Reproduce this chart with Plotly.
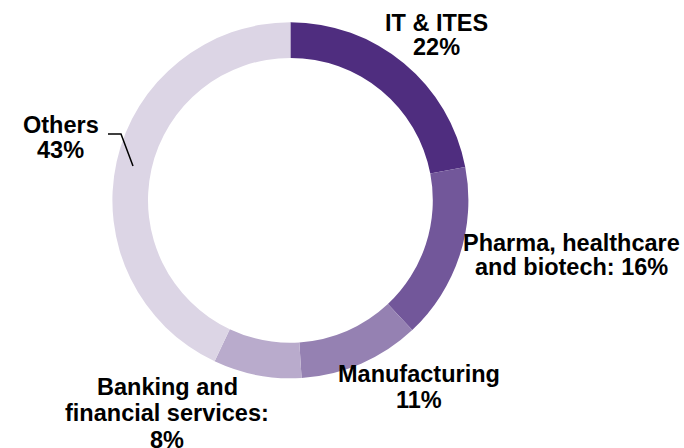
import plotly.graph_objects as go

W, H = 684, 448

# Data
sectors = ["IT & ITES", "Pharma, healthcare and biotech", "Manufacturing",
           "Banking and financial services", "Others"]
shares = [22, 16, 11, 8, 43]
colors = ["#4F2D7F", "#72579A", "#9581B2", "#B9ABCC", "#DCD5E5"]

# Label lines (text as in the chart) and their pixel centres
label_lines = [
    ["IT & ITES", f"{shares[0]}%"],
    ["Pharma, healthcare", f"and biotech: {shares[1]}%"],
    ["Manufacturing", f"{shares[2]}%"],
    ["Banking and", "financial services:", f"{shares[3]}%"],
    ["Others", f"{shares[4]}%"],
]
label_pos = [
    [(436, 23), (436, 47)],
    [(571, 243), (571, 267)],
    [(419, 374), (419, 400)],
    [(167, 387), (167, 413), (167, 440)],
    [(61, 125), (60, 150)],
]

cx, cy, r = 290.4, 200.3, 178.0

fig = go.Figure(go.Pie(
    labels=sectors, values=shares, hole=0.8, sort=False, direction="clockwise",
    rotation=0, marker=dict(colors=colors, line=dict(width=0)),
    textinfo="none", hoverinfo="label+percent", showlegend=False,
    domain=dict(x=[(cx - r) / W, (cx + r) / W], y=[1 - (cy + r) / H, 1 - (cy - r) / H]),
))

anns = []
for lines, poss in zip(label_lines, label_pos):
    for t, (px, py) in zip(lines, poss):
        anns.append(dict(text=f"<b>{t}</b>", x=px / W, y=1 - py / H, xref="paper", yref="paper",
                         xanchor="center", yanchor="middle", showarrow=False,
                         font=dict(family="Liberation Sans, Arial", size=23.5, color="#000000")))

# Leader line for "Others"
pts = [(108, 134), (121, 134), (133, 166)]
path = "M " + " L ".join(f"{x / W},{1 - y / H}" for x, y in pts)
fig.update_layout(
    width=W, height=H, margin=dict(l=0, r=0, t=0, b=0),
    paper_bgcolor="white", plot_bgcolor="white",
    annotations=anns,
    shapes=[dict(type="path", path=path, xref="paper", yref="paper",
                 line=dict(color="black", width=1.5))],
)
fig.write_html("out.html")
